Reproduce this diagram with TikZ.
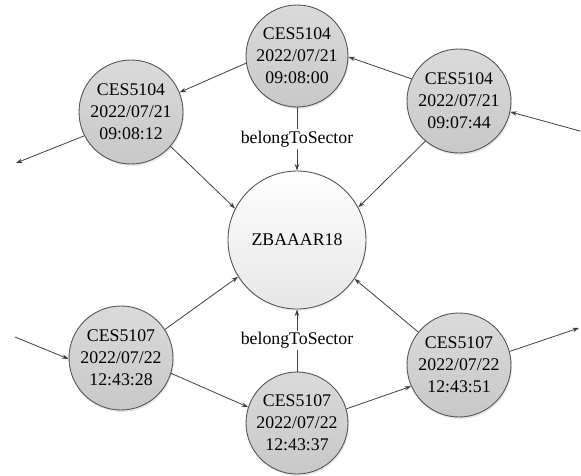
\documentclass[tikz,border=0pt]{standalone}
\usepackage{fontspec}
\setmainfont{Liberation Serif}
\usetikzlibrary{arrows.meta,shadows}

\definecolor{edgecol}{HTML}{404040}
\definecolor{rimcol}{HTML}{555555}
\definecolor{eventtop}{HTML}{DADADA}
\definecolor{eventbot}{HTML}{C8C8C8}
\definecolor{sectorbot}{HTML}{E6E6E6}

\tikzset{
  event/.style={circle, draw=rimcol, line width=0.9pt, minimum size=104pt, inner sep=0pt,
    top color=eventtop, bottom color=eventbot, align=center,
    font=\fontsize{17.8}{22}\selectfont,
    drop shadow={opacity=0.18, shadow xshift=1pt, shadow yshift=-2pt}},
  sector/.style={circle, draw=rimcol, line width=0.9pt, minimum size=138pt, inner sep=0pt,
    top color=white, bottom color=sectorbot,
    font=\fontsize{17.8}{22}\selectfont,
    drop shadow={opacity=0.12, shadow xshift=1pt, shadow yshift=-2pt}},
  link/.style={draw=edgecol, line width=0.8pt, -{Stealth[length=6.5pt,width=4.5pt]}},
  relname/.style={fill=white, inner sep=1.5pt, font=\fontsize{17.8}{22}\selectfont}
}

\begin{document}
\begin{tikzpicture}[x=1pt, y=-1pt]
  \useasboundingbox (0,0) rectangle (581,475);

  % sector node
  \node[sector] (Z) at (297,240) {ZBAAAR18};

  % CES5104 track
  \node[event, minimum size=102pt] (A) at (297,56) {CES5104\\2022/07/21\\09:08:00};
  \node[event] (B) at (131,112) {CES5104\\2022/07/21\\09:08:12};
  \node[event] (C) at (459,101) {CES5104\\2022/07/21\\09:07:44};

  % CES5107 track
  \node[event] (D) at (121,358) {CES5107\\2022/07/22\\12:43:28};
  \node[event, minimum size=102pt] (E) at (297,423) {CES5107\\2022/07/22\\12:43:37};
  \node[event] (F) at (459,365) {CES5107\\2022/07/22\\12:43:51};

  % loose ends of the tracks
  \coordinate (Cin)  at (580,131);
  \coordinate (Bout) at (16,163);
  \coordinate (Din)  at (15,337);
  \coordinate (Fout) at (579,328);

  % CES5104 sequence
  \draw[link] (Cin) -- (C.348);
  \draw[link] (C.155) -- (A.-1);
  \draw[link] (A.188) -- (B.22);
  \draw[link] (B.207) -- (Bout);

  % CES5107 sequence
  \draw[link] (Din) -- (D.181);
  \draw[link] (D.343) -- (E.162);
  \draw[link] (E.16) -- (F.204);
  \draw[link] (F.15) -- (Fout);

  % links to the sector
  \draw[link] (B.319) -- (Z.153);
  \draw[link] (C.230) -- (Z.28);
  \draw[link] (D.33) -- (Z.212);
  \draw[link] (F.141) -- (Z.326);
  \draw[link] (A.south) -- (Z.north) node[relname, pos=0.5] {belongToSector};
  \draw[link] (E.north) -- (Z.south) node[relname, pos=0.5] {belongToSector};
\end{tikzpicture}
\end{document}
